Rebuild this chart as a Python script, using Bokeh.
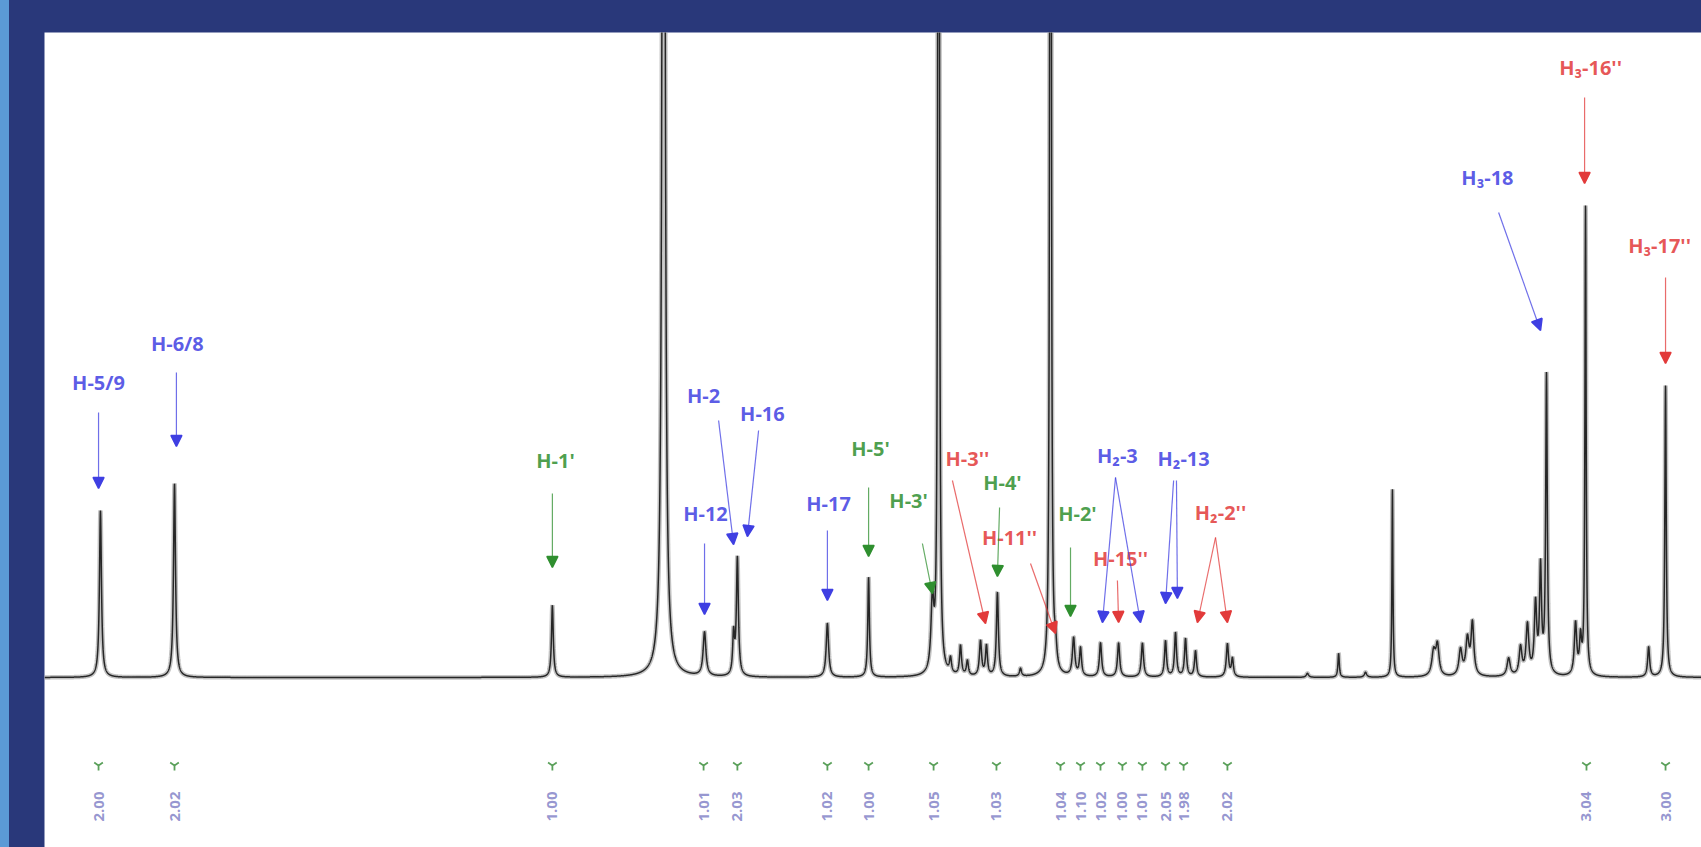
import numpy as np
from bokeh.plotting import figure
from bokeh.models import Range1d, ColumnDataSource, Arrow, NormalHead
from bokeh.core.properties import value
from bokeh.embed import file_html
from bokeh.resources import INLINE

# ---- spectrum peak list (chemical shift ppm, intensity, half width ppm) ----
peak_ppm = [7.200, 6.889, 5.302, 4.835, 4.663, 4.541, 4.525, 4.147, 3.974, 3.706,
            3.680, 3.630, 3.588, 3.559, 3.504, 3.479, 3.433, 3.336, 3.210, 3.189,
            3.113, 3.084, 3.000, 2.924, 2.824, 2.727, 2.685, 2.643, 2.601, 2.467,
            2.446, 2.131, 2.000, 1.887, 1.774, 1.601, 1.585, 1.488, 1.459, 1.438,
            1.286, 1.236, 1.207, 1.173, 1.152, 1.127, 1.005, 0.984, 0.963, 0.698,
            0.627]
peak_height = [167, 194, 72, 2000, 44, 40, 118, 54, 100, 70,
               3000, 15, 30, 15, 35, 30, 84, 8, 3000, 22,
               38, 28, 34, 34, 34, 36, 44, 38, 26, 33,
               18, 4, 24, 5, 188, 24, 30, 26, 36, 52,
               18, 28, 50, 70, 105, 300, 52, 35, 470, 30,
               292]
peak_width = [0.0050, 0.0050, 0.0045, 0.0050, 0.0070, 0.0045, 0.0050, 0.0060, 0.0040, 0.0070,
              0.0021, 0.0050, 0.0050, 0.0050, 0.0055, 0.0050, 0.0050, 0.0050, 0.0021, 0.0060,
              0.0060, 0.0050, 0.0055, 0.0055, 0.0055, 0.0050, 0.0050, 0.0050, 0.0050, 0.0055,
              0.0050, 0.0060, 0.0035, 0.0060, 0.0025, 0.0090, 0.0080, 0.0080, 0.0080, 0.0070,
              0.0080, 0.0070, 0.0070, 0.0060, 0.0050, 0.0040, 0.0060, 0.0050, 0.0030, 0.0050,
              0.0035]

# ---- assignment labels: text, colour group, label position ----
lab_text = ["H-5/9", "H-6/8", "H-12", "H-2", "H-16", "H-17", "H\u2082-3", "H\u2082-13", "H\u2083-18",
            "H-1'", "H-5'", "H-3'", "H-4'", "H-2'",
            "H-3''", "H-11''", "H-15''", "H\u2082-2''", "H\u2083-16''", "H\u2083-17''"]
lab_color = ["blue"] * 9 + ["green"] * 5 + ["red"] * 6
lab_x = [7.208, 6.877, 4.659, 4.667, 4.420, 4.142, 2.929, 2.651, 1.375,
         5.289, 3.966, 3.806, 3.412, 3.097,
         3.559, 3.382, 2.916, 2.496, 0.942, 0.652]
lab_y = [295, 334, 164, 282, 264, 174, 222, 219, 500,
         217, 229, 177, 195, 164,
         219, 140, 119, 165, 610, 432]

# ---- assignment arrows: start and end ----
arr_color = ["blue"] * 11 + ["green"] * 5 + ["red"] * 7
arr_x0 = [7.208, 6.881, 4.663, 4.604, 4.436, 4.147, 2.937, 2.937, 2.693, 2.681, 1.328,
          5.302, 3.974, 3.748, 3.424, 3.126,
          3.622, 3.294, 2.929, 2.517, 2.517, 0.967, 0.627]
arr_y0 = [265, 305, 134, 257, 247, 147, 200, 200, 197, 197, 465,
          184, 190, 134, 170, 130,
          197, 114, 97, 140, 140, 580, 400]
arr_x1 = [7.208, 6.881, 4.663, 4.541, 4.483, 4.147, 2.992, 2.832, 2.727, 2.677, 1.152,
          5.302, 3.974, 3.706, 3.433, 3.126,
          3.483, 3.189, 2.924, 2.593, 2.467, 0.967, 0.627]
arr_y1 = [189, 231, 63, 133, 141, 77, 55, 55, 74, 79, 347,
          110, 121, 84, 101, 61,
          54, 44, 55, 55, 55, 494, 314]

# ---- integral regions below the spectrum ----
int_ppm = [7.208, 6.889, 5.302, 4.667, 4.525, 4.147, 3.974, 3.701, 3.437, 3.168,
           3.084, 3.000, 2.908, 2.824, 2.727, 2.651, 2.467, 0.959, 0.627]
int_value = ["2.00", "2.02", "1.00", "1.01", "2.03", "1.02", "1.00", "1.05", "1.03", "1.04",
             "1.10", "1.02", "1.00", "1.01", "2.05", "1.98", "2.02", "3.04", "3.00"]

COLORS = {"blue": "#3f3fe2", "green": "#2f8f2f", "red": "#e23a3a"}

# ---- figure ----
p = figure(width=1701, height=847, output_backend="svg", toolbar_location=None,
           x_range=Range1d(7.435, 0.476), y_range=Range1d(-170, 645),
           min_border_left=44, min_border_top=32, min_border_right=0, min_border_bottom=0)
p.styles = {"background": "linear-gradient(to right, #5b9ad6 0px, #5b9ad6 9px, #29387a 9px, #29387a 100%)"}
p.axis.visible = False
p.grid.visible = False
p.outline_line_color = None
p.border_fill_color = "#29387a"
p.border_fill_alpha = 0
p.background_fill_color = "white"

xs = np.linspace(7.435, 0.476, 14000)
ys = np.zeros_like(xs)
for c, h, w in zip(peak_ppm, peak_height, peak_width):
    ys += h * w * w / ((xs - c) ** 2 + w * w)
ys = np.minimum(ys, 2000)

p.line(xs, ys, line_color="#9a9a9a", line_width=4.5, line_alpha=0.6)
p.line(xs, ys, line_color="#262626", line_width=1.5)

# arrows
for cname, col in COLORS.items():
    idx = [i for i, c in enumerate(arr_color) if c == cname]
    src = ColumnDataSource(dict(x0=[arr_x0[i] for i in idx], y0=[arr_y0[i] for i in idx],
                                x1=[arr_x1[i] for i in idx], y1=[arr_y1[i] for i in idx]))
    p.add_layout(Arrow(end=NormalHead(size=11, fill_color=col, line_color=col, line_width=1.5),
                       x_start="x0", y_start="y0", x_end="x1", y_end="y1",
                       line_color=col, line_width=1.2, line_alpha=0.75, source=src))

# labels
for cname, col in COLORS.items():
    idx = [i for i, c in enumerate(lab_color) if c == cname]
    p.text([lab_x[i] for i in idx], [lab_y[i] for i in idx], text=[lab_text[i] for i in idx],
           text_color=col, text_font=value("Open Sans"), text_font_size="20px",
           text_font_style="bold", text_align="center", text_baseline="middle", text_alpha=0.85)

# integral marks
p.scatter(int_ppm, [-88] * len(int_ppm), marker="y", size=10, line_color="#5aa05a", line_width=1.8)
p.text(int_ppm, [-129] * len(int_ppm), text=int_value, angle=np.pi / 2,
       text_color="#8484c8", text_font=value("Open Sans"), text_font_size="15px",
       text_font_style="bold", text_align="center", text_baseline="middle", text_alpha=0.85)

open("out.html", "w").write(file_html(p, INLINE))
